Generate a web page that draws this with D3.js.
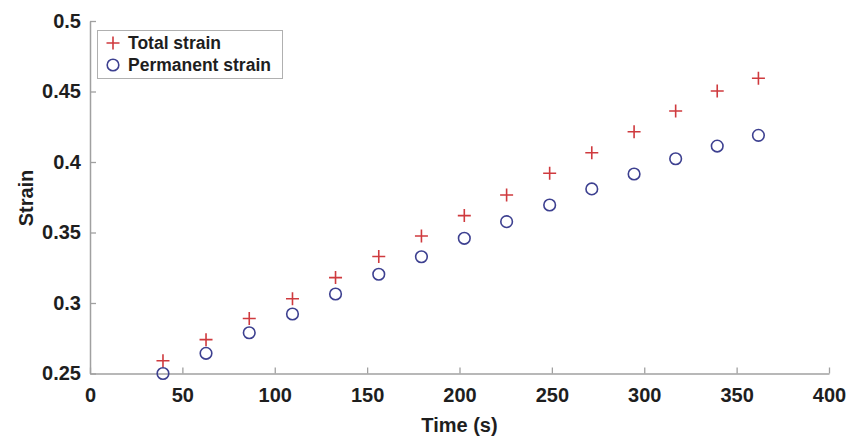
<!DOCTYPE html>
<html>
<head>
<meta charset="utf-8">
<script src="https://cdn.jsdelivr.net/npm/d3@7"></script>
<style>
  html, body { margin: 0; padding: 0; background: #fff; }
  svg text { font-family: "Liberation Sans", Arial, sans-serif; font-weight: bold; fill: #1e1e1e; }
</style>
</head>
<body>
<svg id="chart" width="851" height="437"></svg>
<script>
// Measurement times (s)
const times = [39.5, 62.8, 86.2, 109.6, 132.9, 156.3, 179.4, 202.6, 225.5, 248.8, 271.6, 294.5, 317, 339.5, 361.8];
// Strain series
const totalStrain = [0.259, 0.274, 0.289, 0.303, 0.318, 0.333, 0.3475, 0.362, 0.3766, 0.392, 0.4066, 0.4215, 0.4362, 0.4504, 0.4594];
const permanentStrain = [0.25, 0.2643, 0.2789, 0.2922, 0.3064, 0.3204, 0.3328, 0.3459, 0.3577, 0.3695, 0.3809, 0.3915, 0.4023, 0.4113, 0.4189];
// Axis ticks
const xTicks = [0, 50, 100, 150, 200, 250, 300, 350, 400];
const yTicks = [0.25, 0.3, 0.35, 0.4, 0.45, 0.5];
const seriesNames = ["Total strain", "Permanent strain"];

const svg = d3.select("#chart");
const plotLeft = 90, plotRight = 829, plotTop = 21, plotBottom = 373.5;

const x = d3.scaleLinear().domain([0, 400]).range([plotLeft, plotRight]);
const y = d3.scaleLinear().domain([0.25, 0.5]).range([plotBottom, plotTop]);

const axisColor = "#a0a0a0";
const red = "#cf3a3e";
const blue = "#3d4090";

// X axis (ticks pointing inward)
const gx = svg.append("g").attr("transform", `translate(0,${plotBottom})`)
  .call(d3.axisBottom(x).tickValues(xTicks).tickFormat(d3.format("d")).tickSizeInner(-6).tickSizeOuter(0).tickPadding(14));
gx.select(".domain").attr("stroke", axisColor).attr("stroke-width", 1.5);
gx.selectAll(".tick line").attr("stroke", axisColor).attr("stroke-width", 1.3);
gx.selectAll(".tick text").style("font-size", "20px").attr("fill", "#1e1e1e");

// Y axis
const gy = svg.append("g").attr("transform", `translate(${plotLeft},0)`)
  .call(d3.axisLeft(y).tickValues(yTicks).tickFormat(d => String(+d.toFixed(2))).tickSizeInner(-6).tickSizeOuter(0).tickPadding(9));
gy.select(".domain").attr("stroke", axisColor).attr("stroke-width", 1.5);
gy.selectAll(".tick line").attr("stroke", axisColor).attr("stroke-width", 1.3);
gy.selectAll(".tick text").style("font-size", "20px").attr("fill", "#1e1e1e");

// Axis titles
svg.append("text").attr("x", (plotLeft + plotRight) / 2).attr("y", 432)
  .attr("text-anchor", "middle").style("font-size", "20px").text("Time (s)");
svg.append("text").attr("transform", `translate(33,198) rotate(-90)`)
  .attr("text-anchor", "middle").style("font-size", "20px").text("Strain");

// Marker helpers
function plus(g, cx, cy, s) {
  g.append("path").attr("d", `M${cx - s},${cy}H${cx + s}M${cx},${cy - s}V${cy + s}`)
    .attr("stroke", red).attr("stroke-width", 1.6).attr("fill", "none");
}
function ring(g, cx, cy, r) {
  g.append("circle").attr("cx", cx).attr("cy", cy).attr("r", r)
    .attr("stroke", blue).attr("stroke-width", 1.6).attr("fill", "none");
}

const marks = svg.append("g");
times.forEach((t, i) => plus(marks, x(t), y(totalStrain[i]), 6.5));
times.forEach((t, i) => ring(marks, x(t), y(permanentStrain[i]), 5.8));

// Legend
const lg = svg.append("g");
lg.append("rect").attr("x", 97.5).attr("y", 30.5).attr("width", 185).attr("height", 48)
  .attr("fill", "#fff").attr("stroke", "#b0b0b0").attr("stroke-width", 1);
plus(lg, 113, 43, 6.5);
ring(lg, 113, 65, 5.8);
seriesNames.forEach((n, i) => {
  lg.append("text").attr("x", 128).attr("y", 43 + i * 22).attr("dy", "0.36em")
    .style("font-size", "17.5px").text(n);
});
</script>
</body>
</html>
